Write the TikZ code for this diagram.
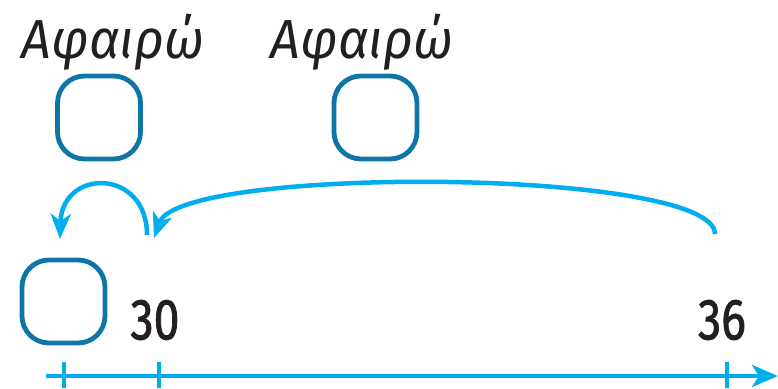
\documentclass[tikz,border=0pt]{standalone}
\usepackage{fontspec}
\setmainfont{Fira Sans}
\usetikzlibrary{arrows.meta}
\definecolor{boxteal}{HTML}{0E76A6}
\definecolor{lineblue}{HTML}{00ADEF}
\definecolor{ink}{HTML}{231F20}
\tikzset{
  answerbox/.style={draw=boxteal,line width=4.8pt,rounded corners=27pt,minimum width=83pt,minimum height=83pt,inner sep=0pt},
  opword/.style={font=\fontsize{55}{60}\selectfont\itshape,text=ink,anchor=base,inner sep=0pt,xscale=0.95},
  numlabel/.style={font=\fontsize{58}{60}\selectfont\addfontfeature{FakeBold=1.5},text=ink,xscale=0.8,inner sep=0pt},
  hop/.style={draw=lineblue,line width=4.5pt,-{Stealth[length=25pt,width=20pt,inset=7pt]}},
  tickmark/.style={draw=lineblue,line width=4.5pt}
}
\begin{document}
\begin{tikzpicture}[x=1pt,y=-1pt]
\useasboundingbox (0,0) rectangle (778,388);
% words
\node[opword] (w1) at (113,58) {Αφαιρώ};
\node[opword] (w2) at (362,58) {Αφαιρώ};
% boxes
\node[answerbox] (b1) at (99,117.5) {};
\node[answerbox] (b2) at (375.5,117.5) {};
\node[answerbox] (b3) at (63.5,301.5) {};
% numbers
\node[numlabel] (n30) at (155,320) {30};
\node[numlabel] (n36) at (722,320) {36};
% number line
\coordinate (ls) at (46,376);
\coordinate (le) at (778,376);
\draw[draw=lineblue,line width=4.5pt,-{Stealth[length=26pt,width=22pt,inset=7pt]}] (ls) -- (le);
\foreach \nm/\xx in {t1/64,t2/159,t3/727}{
  \coordinate (\nm a) at (\xx,362);
  \coordinate (\nm b) at (\xx,388);
  \draw[tickmark] (\nm a) -- (\nm b);
}
% hops
\coordinate (h1s) at (147,235);
\coordinate (h1e) at (60,239);
\coordinate (h2s) at (715,234);
\coordinate (h2e) at (154,238);
\draw[hop] (h1s) .. controls (147,168) and (62,168) .. (h1e);
\draw[hop] (h2s) .. controls (715,168) and (180,165) .. (h2e);
\end{tikzpicture}
\end{document}
